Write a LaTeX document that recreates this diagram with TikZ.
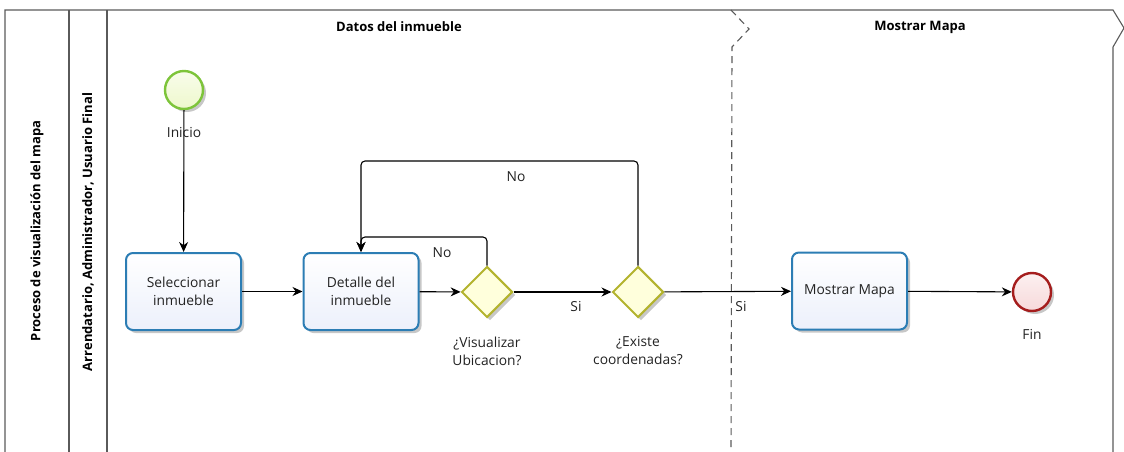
\documentclass[tikz,border=0pt]{standalone}
\usepackage{fontspec}
\setmainfont{Open Sans}
\usetikzlibrary{arrows.meta,shapes.geometric,shadows}
\definecolor{frameline}{HTML}{5A5A5A}
\definecolor{taskborder}{HTML}{2C7DB4}
\definecolor{taskfill}{HTML}{ECF0FB}
\definecolor{gateborder}{HTML}{B3B32E}
\definecolor{gatefill}{HTML}{FFFFDC}
\definecolor{startborder}{HTML}{7DC43A}
\definecolor{startfill}{HTML}{EEF8CC}
\definecolor{endborder}{HTML}{A51D1D}
\definecolor{endfill}{HTML}{F7D9DA}
\definecolor{labeltext}{HTML}{222222}
\tikzset{
  frame/.style={draw=frameline, line width=1.1pt},
  softshadow/.style={drop shadow={shadow xshift=3pt, shadow yshift=-3pt, opacity=0.22, fill=black}},
  task/.style={draw=taskborder, line width=2pt, rounded corners=7pt,
    top color=white, bottom color=taskfill, minimum width=115pt, minimum height=77pt,
    align=center, font=\fontsize{13.8}{18}\selectfont, text=labeltext, softshadow},
  gate/.style={diamond, draw=gateborder, line width=2pt, fill=gatefill,
    minimum width=51pt, minimum height=51pt, inner sep=0pt, softshadow},
  startev/.style={circle, draw=startborder, line width=2.4pt,
    top color=startfill!40, bottom color=startfill, minimum size=38pt, inner sep=0pt, softshadow},
  endev/.style={circle, draw=endborder, line width=2.4pt,
    top color=endfill!40, bottom color=endfill, minimum size=38pt, inner sep=0pt, softshadow},
  lbl/.style={font=\fontsize{13.8}{18}\selectfont, text=labeltext, align=center, inner sep=0pt},
  header/.style={font=\bfseries\fontsize{13}{15}\selectfont, inner sep=0pt},
  flow/.style={draw=black, line width=1.1pt, -{Stealth[length=10pt,width=9pt]}},
}
\begin{document}
\begin{tikzpicture}[x=1pt,y=-1pt]
\useasboundingbox (0,0) rectangle (1124,452);

% pool and lane frame
\draw[frame] (5,452) -- (5,10) -- (1113,10) -- (1124,28) -- (1113,47) -- (1113,452);
\draw[frame] (69,10) -- (69,452);
\draw[frame] (107,10) -- (107,452);
\draw[frame, dashed, dash pattern=on 7pt off 5pt] (731,10) -- (749,29) -- (732,47) -- (731,452);

% titles
\node[header] (titledatos) at (399,27) {Datos del inmueble};
\node[header] (titlemapa) at (920,27) {Mostrar Mapa};
\node[header, rotate=90] (poolname) at (37,231) {Proceso de visualización del mapa};
\node[header, rotate=90] (lanename) at (88,232) {Arrendatario, Administrador, Usuario Final};

% flow objects
\node[startev] (start) at (184,90) {};
\node[task] (sel) at (183.5,291.5) {Seleccionar\\inmueble};
\node[task] (det) at (361,291.5) {Detalle del\\inmueble};
\node[gate] (g1) at (487,292) {};
\node[gate] (g2) at (638,292) {};
\node[task] (mapa) at (849.5,291) {Mostrar Mapa};
\node[endev] (fin) at (1032,292) {};

% sequence flows
\draw[flow] (start) -- (sel);
\draw[flow] (sel) -- (det);
\draw[flow] (det) -- (g1);
\draw[flow] (g1) -- (g2);
\draw[flow] (g2) -- (mapa);
\draw[flow] (mapa) -- (fin);

\coordinate (innerloop) at (0,237);
\coordinate (outerloop) at (0,161);
\draw[flow, rounded corners=4pt] (g1.north) |- (det.north |- innerloop) -- (det.north);
\draw[flow, rounded corners=4pt] (g2.north) |- (det.north |- outerloop) -- (det.north);

% labels
\node[lbl] (lblinicio) at (184,133) {Inicio};
\node[lbl] (lblfin) at (1032,334) {Fin};
\node[lbl] (lblg1) at (487,351) {¿Visualizar\\Ubicacion?};
\node[lbl] (lblg2) at (638,351) {¿Existe\\coordenadas?};
\node[lbl] (no1) at (442,253) {No};
\node[lbl] (no2) at (516,177) {No};
\node[lbl] (si1) at (576,307) {Si};
\node[lbl] (si2) at (741,307) {Si};
\end{tikzpicture}
\end{document}
